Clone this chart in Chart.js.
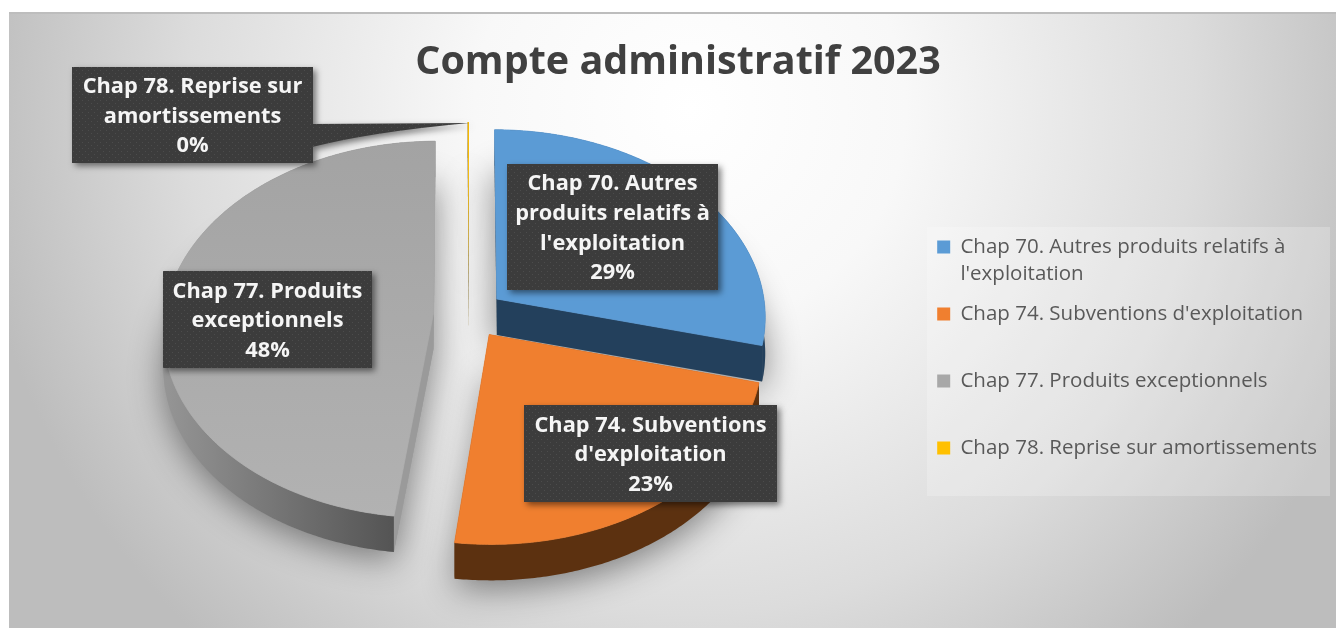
<!DOCTYPE html>
<html lang="fr">
<head>
<meta charset="utf-8">
<title>Compte administratif 2023</title>
<script src="https://cdn.jsdelivr.net/npm/chart.js@4/dist/chart.umd.min.js"></script>
<style>
  html, body { margin: 0; padding: 0; background: #fff; overflow: hidden; }
  canvas { display: block; }
</style>
</head>
<body>
<canvas id="pie-chart" width="1336" height="630"></canvas>
<script>
// Values (share of the total, in %)
var categories = [
  "Chap 70. Autres produits relatifs à l'exploitation",
  "Chap 74. Subventions d'exploitation",
  "Chap 77. Produits exceptionnels",
  "Chap 78. Reprise sur amortissements"
];
var shares = [29, 23, 48, 0.08];
var chartTitle = 'Compte administratif 2023';

var topColors = ['#5b9bd5', '#f07f2f', '#a8a8a8', '#ffc000'];
var wallColors = ['#23405c', '#5c3110', '#6e6e6e', '#7f6000'];
var cutColors = ['#23405c', '#5c3110', '#9a9a9a', '#7f6000'];

// Fake 3D pie: ground plane seen in perspective
var pieX = 469, pieY = 314, radX = 269, radY = 187, persp = 0.09, explode = 0.132, depth = 36;

// Data label boxes: left, top, width, height
var labelBoxes = [
  [507, 164, 211, 126],
  [524, 405, 253, 97],
  [163, 271, 209, 97],
  [72, 67, 241, 96]
];
var labelLineHeight = 29.6;
var labelFont = '700 21.8px "Open Sans"';
var legendFontSize = 20.5;

function project(u, v) {
  var w = 1 + persp * v;
  return { x: pieX + radX * u / w, y: pieY - radY * v / w };
}

// Outline of a slice from the angles the library worked out for the arc
function sliceOutline(arc) {
  var mid = (arc.startAngle + arc.endAngle) / 2;
  var du = explode * Math.cos(mid), dv = -explode * Math.sin(mid);
  var steps = Math.max(2, Math.ceil((arc.endAngle - arc.startAngle) / 0.01));
  var rim = [];
  for (var i = 0; i <= steps; i++) {
    var a = arc.startAngle + (arc.endAngle - arc.startAngle) * i / steps;
    rim.push(project(du + Math.cos(a), dv - Math.sin(a)));
  }
  return { center: project(du, dv), rim: rim };
}

function tracePoly(ctx, pts, dy) {
  ctx.beginPath();
  pts.forEach(function(p, i) {
    if (i === 0) ctx.moveTo(p.x, p.y + dy);
    else ctx.lineTo(p.x, p.y + dy);
  });
  ctx.closePath();
}

function shifted(pts) {
  return pts.map(function(p) { return { x: p.x, y: p.y + depth }; }).reverse();
}

function wrapText(ctx, text, maxWidth) {
  var lines = [], line = '';
  text.split(' ').forEach(function(word) {
    var test = line ? line + ' ' + word : word;
    if (line && ctx.measureText(test).width > maxWidth) {
      lines.push(line);
      line = word;
    } else {
      line = test;
    }
  });
  lines.push(line);
  return lines;
}

function dottedPattern(ctx) {
  var tile = document.createElement('canvas');
  tile.width = 6;
  tile.height = 6;
  var t = tile.getContext('2d');
  t.fillStyle = '#3c3c3c';
  t.fillRect(0, 0, 6, 6);
  t.fillStyle = '#4c4c4c';
  t.fillRect(1, 1, 1, 1);
  t.fillRect(4, 4, 1, 1);
  return ctx.createPattern(tile, 'repeat');
}

var backgroundPlugin = {
  id: 'background',
  beforeDraw: function(chart) {
    var ctx = chart.ctx;
    ctx.save();
    ctx.fillStyle = '#ffffff';
    ctx.fillRect(0, 0, 1336, 630);
    ctx.beginPath();
    ctx.rect(9, 13, 1327, 615);
    ctx.clip();
    // radial gradient, same as the office chart style
    var g = ctx.createRadialGradient(690, 110, 0, 690, 110, 720);
    g.addColorStop(0, '#ffffff');
    g.addColorStop(0.3, '#f8f8f8');
    g.addColorStop(0.7, '#dcdcdc');
    g.addColorStop(1, '#bdbdbd');
    ctx.fillStyle = g;
    ctx.fillRect(0, 0, 1336, 630);
    ctx.restore();
    ctx.save();
    ctx.fillStyle = '#bdbdbd';
    ctx.fillRect(9, 12, 1327, 2);
    // legend panel
    ctx.fillStyle = 'rgba(255,255,255,0.22)';
    ctx.fillRect(927, 227, 403, 269);
    ctx.restore();
  }
};

var tiltedPiePlugin = {
  id: 'tiltedPie',
  beforeDatasetsDraw: function(chart) {
    var ctx = chart.ctx;
    var arcs = chart.getDatasetMeta(0).data;
    var outlines = arcs.map(sliceOutline);

    ctx.save();
    // soft shadow on the background first
    outlines.forEach(function(o) {
      ctx.save();
      ctx.shadowColor = 'rgba(0,0,0,0.45)';
      ctx.shadowBlur = 34;
      ctx.shadowOffsetY = 8;
      ctx.fillStyle = '#9a9a9a';
      tracePoly(ctx, [o.center].concat(o.rim), depth);
      ctx.fill();
      ctx.restore();
    });

    var wallShade = ctx.createLinearGradient(165, 0, 397, 0);
    wallShade.addColorStop(0, '#959595');
    wallShade.addColorStop(1, '#535353');
    var grayTop = ctx.createLinearGradient(0, 140, 0, 520);
    grayTop.addColorStop(0, '#a3a3a3');
    grayTop.addColorStop(1, '#b2b2b2');

    // back to front, orange last so it sits over the blue wall
    [0, 3, 2, 1].forEach(function(i) {
      var o = outlines[i];
      var last = o.rim[o.rim.length - 1];
      // the two cut faces
      ctx.fillStyle = cutColors[i];
      tracePoly(ctx, [o.center, o.rim[0]].concat(shifted([o.center, o.rim[0]])), 0);
      ctx.fill();
      tracePoly(ctx, [o.center, last].concat(shifted([o.center, last])), 0);
      ctx.fill();
      // the outer wall
      ctx.fillStyle = i === 2 ? wallShade : wallColors[i];
      tracePoly(ctx, o.rim.concat(shifted(o.rim)), 0);
      ctx.fill();
      // the top face
      ctx.fillStyle = i === 2 ? grayTop : topColors[i];
      ctx.strokeStyle = ctx.fillStyle;
      ctx.lineWidth = i === 3 ? 0 : 0.8;
      tracePoly(ctx, [o.center].concat(o.rim), 0);
      ctx.fill();
      if (i !== 3) ctx.stroke();
    });
    ctx.restore();
    return false;
  }
};

var dataLabelPlugin = {
  id: 'dataLabels',
  afterDraw: function(chart) {
    var ctx = chart.ctx;
    var total = shares.reduce(function(a, b) { return a + b; }, 0);
    var pattern = dottedPattern(ctx);
    ctx.save();
    ctx.font = labelFont;
    ctx.textAlign = 'center';
    ctx.textBaseline = 'middle';
    categories.forEach(function(name, i) {
      var b = labelBoxes[i];
      ctx.save();
      ctx.shadowColor = 'rgba(0,0,0,0.5)';
      ctx.shadowBlur = 6;
      ctx.shadowOffsetX = 3;
      ctx.shadowOffsetY = 3;
      ctx.fillStyle = pattern;
      ctx.beginPath();
      ctx.rect(b[0], b[1], b[2], b[3]);
      if (shares[i] < 1) {
        // callout tail running to the thin slice
        var tip = project(0, 1 + explode);
        ctx.moveTo(b[0] + b[2] - 1, 124);
        ctx.lineTo(tip.x, tip.y + 1);
        ctx.quadraticCurveTo(370, 132, b[0] + b[2] - 1, 147);
        ctx.closePath();
      }
      ctx.fill();
      ctx.restore();

      var lines = wrapText(ctx, name, b[2] - 6);
      lines.push(Math.round(shares[i] / total * 100) + '%');
      var y = b[1] + 1.5 + b[3] / 2 - (lines.length - 1) * labelLineHeight / 2;
      ctx.fillStyle = '#f5f5f5';
      lines.forEach(function(line, k) {
        ctx.fillText(line, b[0] + b[2] / 2, y + k * labelLineHeight);
      });
    });
    ctx.restore();
  }
};

var ctx = document.getElementById('pie-chart').getContext('2d');
var pieChart = new Chart(ctx, {
  type: 'pie',
  data: {
    labels: categories,
    datasets: [{ data: shares, backgroundColor: topColors, borderWidth: 0 }]
  },
  plugins: [backgroundPlugin, tiltedPiePlugin, dataLabelPlugin],
  options: {
    responsive: false,
    animation: false,
    events: [],
    layout: { padding: { left: 29, right: 9, top: 0, bottom: 0 } },
    plugins: {
      tooltip: { enabled: false },
      title: {
        display: true,
        text: chartTitle,
        color: '#404040',
        font: { family: '"Open Sans"', size: 39.5, weight: '700', lineHeight: 1.2 },
        padding: { top: 39, bottom: 12 }
      },
      legend: {
        position: 'right',
        fullSize: false,
        labels: {
          color: '#595959',
          boxWidth: 13,
          boxHeight: 13,
          padding: 13,
          font: { family: '"Open Sans"', size: legendFontSize, lineHeight: 27 / legendFontSize },
          generateLabels: function(chart) {
            // every item takes two text lines, as the legend rows are evenly spaced
            var c = chart.ctx;
            c.save();
            c.font = legendFontSize + 'px "Open Sans"';
            var items = categories.map(function(name, i) {
              var lines = wrapText(c, name, 360);
              if (lines.length < 2) lines.push('');
              return { text: lines, fillStyle: topColors[i], strokeStyle: topColors[i], fontColor: '#595959', lineWidth: 0, index: i };
            });
            c.restore();
            return items;
          }
        }
      }
    }
  }
});
</script>
</body>
</html>
